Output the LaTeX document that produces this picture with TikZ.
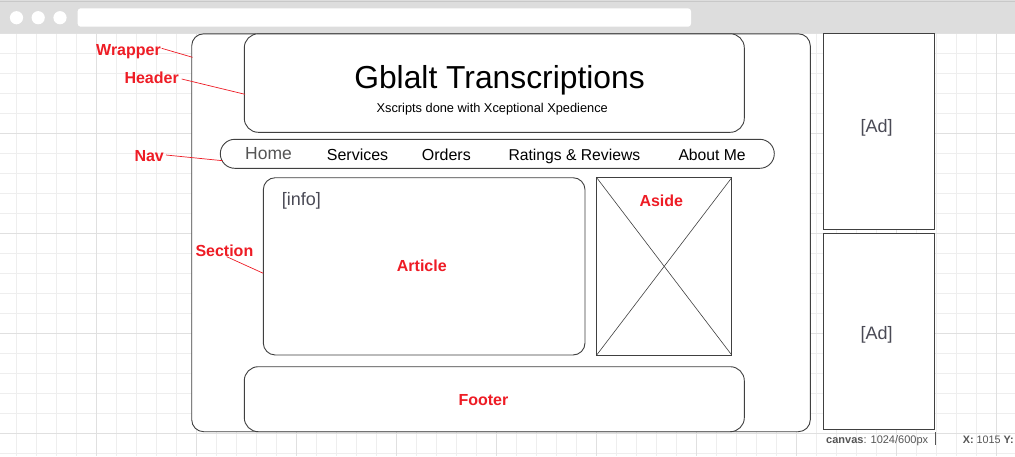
\documentclass[tikz,border=0pt]{standalone}
\usepackage{fontspec}
\setmainfont{Liberation Sans}
\definecolor{gridminor}{HTML}{EEEEEE}
\definecolor{gridmajor}{HTML}{E0E0E0}
\definecolor{barfill}{HTML}{DDDDDD}
\definecolor{barline}{HTML}{C8C8C8}
\definecolor{edge}{HTML}{404040}
\definecolor{lblred}{HTML}{EE1C25}
\definecolor{softtext}{HTML}{4A4A55}
\definecolor{stattext}{HTML}{555555}
\tikzset{
  box/.style={draw=edge,line width=0.9pt,fill=white},
  lbl/.style={text=lblred,font=\fontsize{16}{19}\selectfont\bfseries,anchor=base west,inner sep=0pt},
  lblline/.style={draw=lblred,line width=0.7pt},
  navitem/.style={font=\fontsize{16}{19}\selectfont,anchor=base west,inner sep=0pt},
  soft/.style={text=softtext,font=\fontsize{18}{21}\selectfont,anchor=base west,inner sep=0pt},
  stat/.style={text=stattext,anchor=base west,inner sep=0pt},
  minorline/.style={draw=gridminor,line width=0.8pt},
  majorline/.style={draw=gridmajor,line width=0.9pt}
}
\begin{document}
\begin{tikzpicture}[x=1pt,y=-1pt]
\useasboundingbox (0,0) rectangle (1015,456);
\fill[white] (0,0) rectangle (1015,456);
% grid
\foreach \i in {0,...,49} {\draw[minorline] ({16.7+20*\i},33.3) -- ({16.7+20*\i},456);}
\foreach \i in {0,...,21} {\draw[minorline] (0,{33.3+20*\i}) -- (1015,{33.3+20*\i});}
\foreach \i in {0,...,9} {\draw[majorline] ({96.7+100*\i},33.3) -- ({96.7+100*\i},456);}
\foreach \i in {0,...,4} {\draw[majorline] (0,{33.3+100*\i}) -- (1015,{33.3+100*\i});}
% browser bar
\fill[barfill] (0,0) rectangle (1015,33.3);
\draw[barline,line width=1.2pt] (0,1.2) -- (1015,1.2);
\fill[white] (16.5,17.7) circle (6.6);
\fill[white] (38.2,17.7) circle (6.6);
\fill[white] (60,17.7) circle (6.6);
\fill[white,rounded corners=3pt] (77.7,8.3) rectangle (691,26.7);
% wrapper
\draw[box,rounded corners=12pt] (191.7,33.8) rectangle (810.3,431.7);
% header
\draw[box,rounded corners=14pt] (244.3,33.8) rectangle (744.3,132.3);
\node[anchor=base,inner sep=0pt,font=\fontsize{31.8}{36}\selectfont] (title) at (499.5,88) {Gblalt Transcriptions};
\node[anchor=base,inner sep=0pt,font=\fontsize{12.8}{15}\selectfont] (subtitle) at (492.2,112.3) {Xscripts done with Xceptional Xpedience};
% nav
\draw[box,rounded corners=14.5pt] (220.3,139.3) rectangle (774.3,168.3);
\node[navitem,text=stattext,font=\fontsize{17.5}{20}\selectfont] (home) at (245,159.8) {Home};
\node[navitem] (services) at (326.7,160) {Services};
\node[navitem] (orders) at (421.7,160) {Orders};
\node[navitem,font=\fontsize{15.7}{19}\selectfont] (ratings) at (508.3,160) {Ratings \& Reviews};
\node[navitem,font=\fontsize{15.7}{19}\selectfont] (about) at (678.3,160) {About Me};
% section / article
\draw[box,rounded corners=12pt] (263.3,177.7) rectangle (585,355);
\node[soft] (info) at (281.7,205.5) {[info]};
% aside
\draw[box] (596.7,177.7) rectangle (731.7,355);
\draw[draw=edge,line width=0.6pt] (596.7,177.7) -- (731.7,355);
\draw[draw=edge,line width=0.6pt] (731.7,177.7) -- (596.7,355);
% footer
\draw[box,rounded corners=14pt] (244.3,366.7) rectangle (744.3,431.7);
% ads
\draw[box] (823.3,33.8) rectangle (934.7,229.3);
\draw[box] (823.3,233.3) rectangle (934.7,429.3);
\node[soft] (ad1) at (860.5,132.7) {[Ad]};
\node[soft] (ad2) at (860.5,339) {[Ad]};
% red labels
\node[lbl] (lwrapper) at (96,55) {Wrapper};
\node[lbl] (lheader) at (124.3,83.3) {Header};
\node[lbl] (lnav) at (134.3,161.3) {Nav};
\node[lbl] (lsection) at (195.3,256) {Section};
\node[lbl] (larticle) at (396.7,271.7) {Article};
\node[lbl] (laside) at (639.3,206.7) {Aside};
\node[lbl] (lfooter) at (458.3,405) {Footer};
\coordinate (cw1) at (161.7,48.3);
\coordinate (cw2) at (192.5,57.3);
\coordinate (ch1) at (181.7,79);
\coordinate (ch2) at (245,94.3);
\coordinate (cn1) at (166,155);
\coordinate (cn2) at (222.7,160.7);
\coordinate (cs1) at (226.7,256.7);
\coordinate (cs2) at (263.3,273.3);
\draw[lblline] (cw1) -- (cw2);
\draw[lblline] (ch1) -- (ch2);
\draw[lblline] (cn1) -- (cn2);
\draw[lblline] (cs1) -- (cs2);
% status
\node[stat,font=\fontsize{11}{13}\selectfont] (canvas) at (826,443.5) {\textbf{canvas}: 1024/600px};
\coordinate (sep1) at (935,432);
\coordinate (sep2) at (935,445);
\draw[draw=stattext,line width=0.7pt] (sep1) -- (sep2);
\node[stat,font=\fontsize{10.8}{12}\selectfont] (coords) at (962.7,443.5) {\textbf{X:} 1015 \textbf{Y:}};
\end{tikzpicture}
\end{document}
